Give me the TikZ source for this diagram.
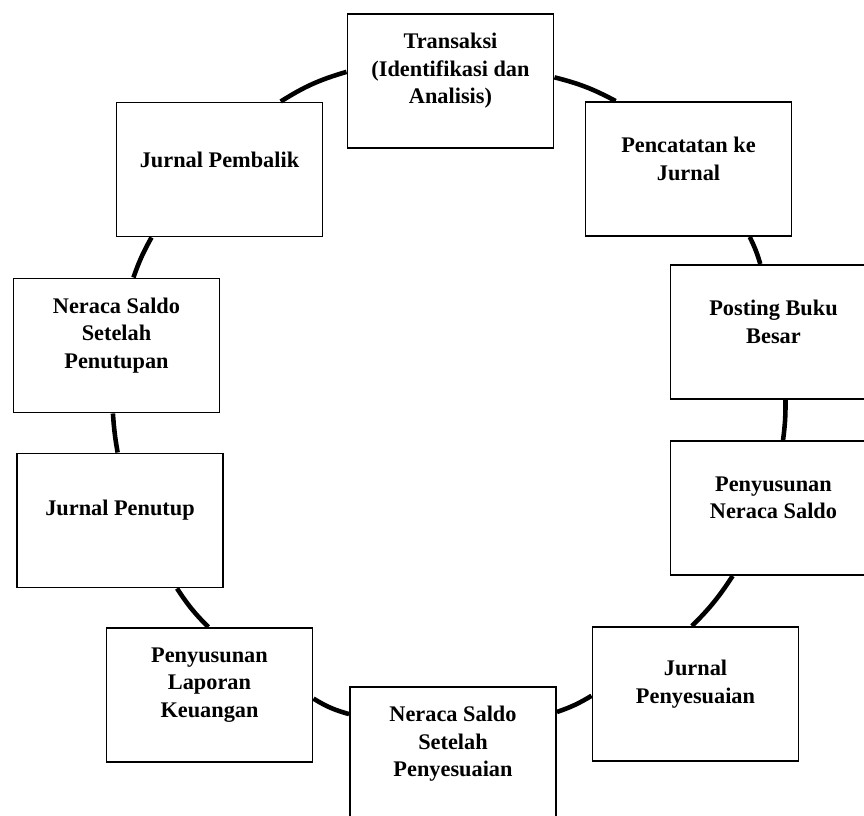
\documentclass[tikz,border=0pt]{standalone}
\usepackage{fontspec}
\setmainfont{Liberation Serif}

\begin{document}
\begin{tikzpicture}
\tikzstyle{box} = [rectangle, minimum width=4.12cm, minimum height=2.68cm, inner sep=0pt, draw=black, line width=1.1pt, fill=white]
\tikzstyle{txt} = [align=center, font=\fontsize{12.7}{15.6}\selectfont\bfseries, yshift=0.2cm]
\tikzstyle{link} = [line width=2.6pt]
\useasboundingbox (0,0) rectangle (17.28,16.32);
\clip (0,0) rectangle (17.28,16.32);
    \path
        (9.01, 14.70) node[box, label={[txt]center:{Transaksi\\(Identifikasi dan\\Analisis)}}] (trans) {}
        (13.77, 12.94) node[box, label={[txt]center:{Pencatatan ke\\Jurnal}}] (jurnal) {}
        (15.47, 9.68) node[box, label={[txt]center:{Posting Buku\\Besar}}] (posting) {}
        (15.47, 6.16) node[box, label={[txt]center:{Penyusunan\\Neraca Saldo}}] (neraca) {}
        (13.91, 2.44) node[box, label={[txt]center:{Jurnal\\Penyesuaian}}] (penyesuaian) {}
        (9.06, 1.24) node[box, label={[txt]center:{Neraca Saldo\\Setelah\\Penyesuaian}}] (nsadj) {}
        (4.19, 2.42) node[box, label={[txt]center:{Penyusunan\\Laporan\\Keuangan}}] (laporan) {}
        (2.40, 5.91) node[box, label={[txt]center:{Jurnal Penutup}}] (penutup) {}
        (2.33, 9.41) node[box, label={[txt]center:{Neraca Saldo\\Setelah\\Penutupan}}] (nsclose) {}
        (4.39, 12.93) node[box, label={[txt]center:{Jurnal Pembalik}}] (pembalik) {};

        \draw [link] (trans.2.2) to[bend left=7] (jurnal.137.6);
        \draw [link] (jurnal.-48.9) to[bend left=5] (posting.101.4);
        \draw [link] (posting.-80.3) to[bend left=4] (neraca.82.8);
        \draw [link] (neraca.-121.8) to[bend left=6] (penyesuaian.93);
        \draw [link] (penyesuaian.181.7) to[bend left=6] (nsadj.22);
        \draw [link] (nsadj.159.4) to[bend left=8] (laporan.-2.8);
        \draw [link] (laporan.91.3) to[bend left=6] (penutup.-50.8);
        \draw [link] (penutup.92.5) to[bend left=3] (nsclose.-93);
        \draw [link] (nsclose.76.3) to[bend left=5] (pembalik.-135);
        \draw [link] (pembalik.48.1) to[bend left=8] (trans.175);
\end{tikzpicture}
\end{document}
